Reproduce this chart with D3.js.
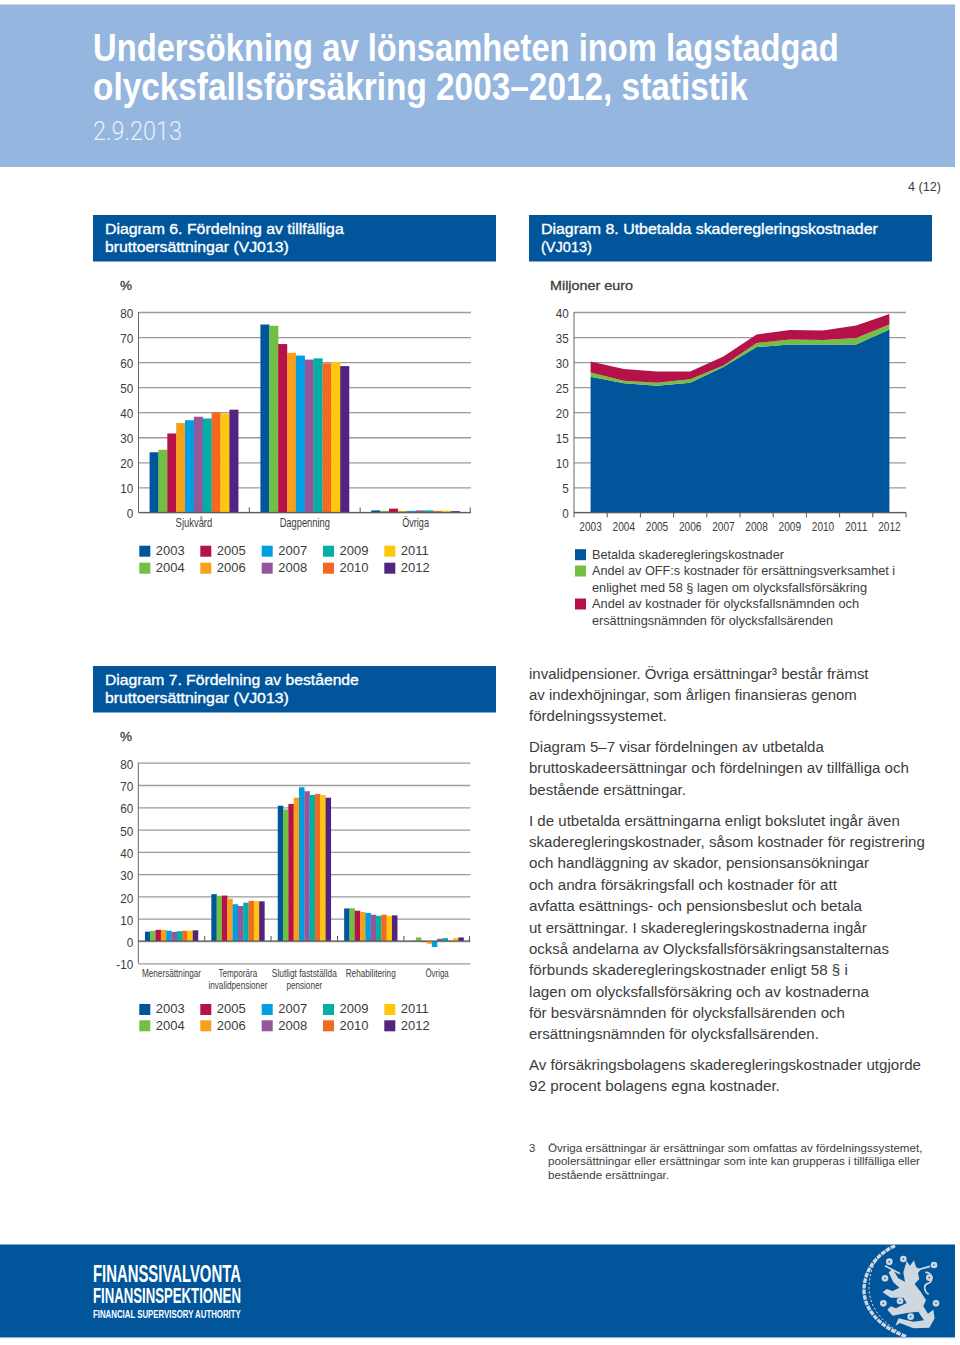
<!DOCTYPE html>
<html lang="sv">
<head>
<meta charset="utf-8">
<title>Undersökning av lönsamheten</title>
<script src="https://cdn.jsdelivr.net/npm/d3@7"></script>
<style>
html,body{margin:0;padding:0;background:#fff}
svg{display:block}
text{font-family:"Liberation Sans",Arial,sans-serif}
</style>
</head>
<body>
<svg id="page" width="960" height="1345" viewBox="0 0 960 1345"></svg>
<script>
// ---------- data ----------
const years = ["2003","2004","2005","2006","2007","2008","2009","2010","2011","2012"];
const colors = ["#00559b","#72bf44","#b5124a","#f9a01b","#009fe3","#93579a","#00b0a6","#f26a21","#ffc60b","#52247f"];

const d6Categories = ["Sjukvård","Dagpenning","Övriga"];
const d6Sjukvard   = [24,25,31.5,35.7,36.8,38.2,37.5,40,39.5,41];
const d6Dagpenning = [75,74.5,67.2,63.7,62.6,61,61.5,59.5,60,58.4];
const d6Ovriga     = [0.8,0.6,1.5,0.6,0.6,0.8,0.8,0.6,0.7,0.5];
const d6Ticks = [0,10,20,30,40,50,60,70,80];

const d8Betalda = [27.1,25.8,25.3,25.9,29,33,33.5,33.5,33.5,36.5];
const d8Off     = [0.8,0.5,0.6,0.7,0.3,0.8,1.0,0.9,1.3,1.0];
const d8Namnd   = [2.2,2.3,2.2,1.5,1.8,1.7,1.9,1.9,2.5,2.1];
const d8Ticks = [0,5,10,15,20,25,30,35,40];
const d8Colors = ["#00559b","#72bf44","#b5124a"];
const d8Legend = [
  ["Betalda skaderegleringskostnader"],
  ["Andel av OFF:s kostnader för ersättningsverksamhet i","enlighet med 58 § lagen om olycksfallsförsäkring"],
  ["Andel av kostnader för olycksfallsnämnden och","ersättningsnämnden för olycksfallsärenden"]
];

const d7Categories = [["Menersättningar"],["Temporära","invalidpensioner"],["Slutligt fastställda","pensioner"],["Rehabilitering"],["Övriga"]];
const d7Mener  = [4.2,4.6,5,5,4.6,4.1,4.4,4.6,4.6,4.8];
const d7Temp   = [21,20.3,20.4,19,16.5,15.7,17.2,18,17.9,17.8];
const d7Slut   = [60.7,59,61.5,64.3,69,67.2,65.5,66,65.5,64.3];
const d7Rehab  = [14.6,14.7,13.6,13,12.6,11.8,11.3,11.8,11.2,11.5];
const d7Ovriga = [0.1,1.6,-0.4,-1.2,-2.7,1,1.3,0.2,1.3,1.6];
const d7Ticks = [-10,0,10,20,30,40,50,60,70,80];

const bodyLines = [
 "invalidpensioner. Övriga ersättningar³ består främst",
 "av indexhöjningar, som årligen finansieras genom",
 "fördelningssystemet.",
 "Diagram 5–7 visar fördelningen av utbetalda",
 "bruttoskadeersättningar och fördelningen av tillfälliga och",
 "bestående ersättningar.",
 "I de utbetalda ersättningarna enligt bokslutet ingår även",
 "skaderegleringskostnader, såsom kostnader för registrering",
 "och handläggning av skador, pensionsansökningar",
 "och andra försäkringsfall och kostnader för att",
 "avfatta esättnings- och pensionsbeslut och betala",
 "ut ersättningar. I skaderegleringskostnaderna ingår",
 "också andelarna av Olycksfallsförsäkringsanstalternas",
 "förbunds skaderegleringskostnader enligt 58 § i",
 "lagen om olycksfallsförsäkring och av kostnaderna",
 "för besvärsnämnden för olycksfallsärenden och",
 "ersättningsnämnden för olycksfallsärenden.",
 "Av försäkringsbolagens skaderegleringskostnader utgjorde",
 "92 procent bolagens egna kostnader."
];
const footnoteLines = [
 "Övriga ersättningar är ersättningar som omfattas av fördelningssystemet,",
 "poolersättningar eller ersättningar som inte kan grupperas i tillfälliga eller",
 "bestående ersättningar."
];

// ---------- layout ----------
const bodyBase = [679,700,721,752,773,795,826,847,868,890,911,933,954,975,997,1018,1039,1070,1091];
const bodyEnd  = [869,857,667,824,909,686,900,925,869,837,862,867,889,848,869,845,819,921,780];
const INK = "#3c3c3c";
const svg = d3.select("#page");

// Text helper: o.width squeezes the real text horizontally to the width measured on the reference.
function T(parent,x,y,str,o={}){
  const t = parent.append("text").text(str)
    .attr("font-size",o.size||13).attr("fill",o.fill||INK)
    .attr("font-weight",o.weight||400).attr("text-anchor",o.anchor||"start");
  if(o.family) t.style("font-family",o.family);
  if(o.stroke) t.attr("stroke",o.fill||INK).attr("stroke-width",o.stroke);
  if(o.width){
    const natural=t.node().getComputedTextLength();
    t.attr("transform",`translate(${x},${y}) scale(${o.width/natural},1)`);
  } else {
    t.attr("x",x).attr("y",y);
  }
  return t;
}

// page furniture
svg.append("rect").attr("x",0).attr("y",4.5).attr("width",955).attr("height",162.5).attr("fill","#94b6df");
T(svg,93,61,"Undersökning av lönsamheten inom lagstadgad",{size:39,weight:700,fill:"#fff",width:746});
T(svg,93,100,"olycksfallsförsäkring 2003–2012, statistik",{size:39,weight:700,fill:"#fff",width:655});
T(svg,93,139.5,"2.9.2013",{size:26,fill:"#e8eff8",family:'Roboto,"Liberation Sans"',weight:300,width:89});
T(svg,941,191,"4 (12)",{size:13.5,anchor:"end",width:33});

function panel(x,y,l1,l2,w1,w2){
  svg.append("rect").attr("x",x).attr("y",y).attr("width",403).attr("height",46.5).attr("fill","#00559b");
  T(svg,x+12,y+19,l1,{size:15,fill:"#fff",stroke:0.35,width:w1});
  T(svg,x+12,y+37,l2,{size:15,fill:"#fff",stroke:0.35,width:w2});
}
panel(93,215,"Diagram 6. Fördelning av tillfälliga","bruttoersättningar (VJ013)",239,184);
panel(529,215,"Diagram 8. Utbetalda skaderegleringskostnader","(VJ013)",337,51);
panel(93,666,"Diagram 7. Fördelning av bestående","bruttoersättningar (VJ013)",254,184);

T(svg,120,290,"%",{size:13.5,stroke:0.3,width:12});
T(svg,550,290,"Miljoner euro",{size:13.5,stroke:0.3,width:83});
T(svg,120,741,"%",{size:13.5,stroke:0.3,width:12});

function styleAxis(g,gridColor){
  g.selectAll(".domain").remove();
  g.selectAll(".tick line").attr("stroke",gridColor).attr("stroke-width",1.3);
  g.selectAll(".tick text").attr("fill",INK).attr("font-size",12.7)
    .attr("x",-5.6).attr("dy","0.44em").attr("transform","scale(0.92,1)");
}

function yearLegend(x0,y1,y2){
  const cols=[0,61,122.4,183.7,245];
  years.forEach((yr,i)=>{
    const cx=x0+cols[Math.floor(i/2)], row=i%2, by=row?y2:y1;
    svg.append("rect").attr("x",cx).attr("y",by-10).attr("width",11).attr("height",11).attr("fill",colors[i]);
    T(svg,cx+16.5,by-0.7,yr,{size:13});
  });
}

function barChart(cfg){
  const x=d3.scaleBand().domain(d3.range(cfg.series.length)).range([cfg.left,cfg.right]).paddingInner(0.2).paddingOuter(0.1);
  const xi=d3.scaleBand().domain(d3.range(years.length)).range([0,x.bandwidth()]);
  const y=d3.scaleLinear().domain(cfg.domain).range([cfg.bottom,cfg.top]);
  const gy=svg.append("g").attr("transform",`translate(${cfg.left},0)`)
    .call(d3.axisLeft(y).tickValues(cfg.ticks).tickSize(-(cfg.right-cfg.left)).tickFormat(d=>String(d)));
  styleAxis(gy,"#9b9b9b");
  svg.append("line").attr("x1",cfg.left).attr("x2",cfg.left).attr("y1",cfg.top).attr("y2",cfg.bottom).attr("stroke","#666");
  cfg.series.forEach((vals,k)=>{
    svg.append("g").selectAll("rect").data(vals).join("rect")
      .attr("x",(d,i)=>x(k)+xi(i)).attr("width",xi.bandwidth()+0.2)
      .attr("y",d=>y(Math.max(d,0))).attr("height",d=>Math.abs(y(d)-y(0)))
      .attr("fill",(d,i)=>colors[i]);
  });
  const y0=y(0);
  svg.append("line").attr("x1",cfg.left).attr("x2",cfg.right).attr("y1",y0).attr("y2",y0).attr("stroke","#555").attr("stroke-width",1);
  d3.range(1,cfg.series.length+1).forEach(k=>{
    const tx=cfg.left+x.step()*k-(k===cfg.series.length?0.8:0);
    svg.append("line").attr("x1",tx).attr("x2",tx).attr("y1",y0).attr("y2",y0-5).attr("stroke","#555");
  });
  cfg.labels.forEach((lines,k)=>{
    const cx=x(k)+x.bandwidth()/2;
    lines.forEach((s,j)=>T(svg,cx,cfg.labelY+j*12,s,{size:cfg.labelSize,anchor:"middle",width:cfg.labelWidths[k][j]}));
  });
}

barChart({series:[d6Sjukvard,d6Dagpenning,d6Ovriga],labels:d6Categories.map(c=>[c]),domain:[0,80],ticks:d6Ticks,
  left:138.5,right:471,top:312,bottom:512.4,labelY:527,labelSize:12,labelWidths:[[36.7],[50.3],[26.7]]});
yearLegend(139.3,555.7,572.7);

barChart({series:[d7Mener,d7Temp,d7Slut,d7Rehab,d7Ovriga],labels:d7Categories,domain:[-10,80],ticks:d7Ticks,
  left:138.3,right:470.3,top:762.7,bottom:963.3,labelY:977,labelSize:11.5,labelWidths:[[59.3],[38.7,59],[65,35.7],[50],[23.3]]});
yearLegend(139.3,1014,1030.3);

// Diagram 8 stacked area
(function(){
  const left=574,right=906,top=312,bottom=512.4;
  const band=d3.scaleBand().domain(years).range([left,right]);
  const x=d=>band(d)+band.bandwidth()/2;
  const y=d3.scaleLinear().domain([0,40]).range([bottom,top]);
  const rows=years.map((yr,i)=>({yr,a:d8Betalda[i],b:d8Off[i],c:d8Namnd[i]}));
  const stacked=d3.stack().keys(["a","b","c"])(rows);
  const gy=svg.append("g").attr("transform",`translate(${left},0)`)
    .call(d3.axisLeft(y).tickValues(d8Ticks).tickSize(-(right-left)).tickFormat(d=>String(d)));
  styleAxis(gy,"#9b9b9b");
  const area=d3.area().x(d=>x(d.data.yr)).y0(d=>y(d[0])).y1(d=>y(d[1]));
  svg.append("g").selectAll("path").data(stacked).join("path").attr("d",area).attr("fill",(d,i)=>d8Colors[i]);
  svg.append("line").attr("x1",left).attr("x2",left).attr("y1",top).attr("y2",bottom).attr("stroke","#666");
  const gx=svg.append("g").attr("transform",`translate(0,${bottom})`)
    .call(d3.axisBottom(band).tickSize(0).tickFormat(()=>""));
  gx.select(".domain").attr("stroke","#555").attr("d",`M${left},0H${right}`);
  years.forEach(yr=>T(svg,x(yr),530.5,yr,{size:12,anchor:"middle",width:22.5}));
  d3.range(0,11).forEach(k=>{
    const tx=left+band.step()*k;
    svg.append("line").attr("x1",tx).attr("x2",tx).attr("y1",bottom).attr("y2",bottom+5).attr("stroke","#555");
  });
  const base=[[558.7],[575,592],[608,624.5]];
  const widths=[[192],[303,275],[267,241]];
  d8Legend.forEach((lines,i)=>{
    svg.append("rect").attr("x",575).attr("y",base[i][0]-9.5).attr("width",11).attr("height",11).attr("fill",d8Colors[i]);
    lines.forEach((s,j)=>T(svg,592,base[i][j],s,{size:12.7,width:widths[i][j]}));
  });
})();

// body text
bodyLines.forEach((s,i)=>T(svg,529,bodyBase[i],s,{size:15.3,width:bodyEnd[i]-529}));
T(svg,529,1152,"3",{size:11.3});
const fnEnd=[923,920,669], fnBase=[1152,1165,1179];
footnoteLines.forEach((s,i)=>T(svg,548,fnBase[i],s,{size:11.3,width:fnEnd[i]-548}));

// footer
svg.append("rect").attr("x",0).attr("y",1244.5).attr("width",955).attr("height",92.5).attr("fill","#00559b");
svg.append("rect").attr("x",0).attr("y",1337).attr("width",955).attr("height",1.2).attr("fill","#94b6df");
T(svg,93,1282,"FINANSSIVALVONTA",{size:23,weight:700,fill:"#fff",width:148});
T(svg,93,1303,"FINANSINSPEKTIONEN",{size:22,weight:700,fill:"#fff",width:148});
T(svg,93,1318,"FINANCIAL SUPERVISORY AUTHORITY",{size:11.5,weight:700,fill:"#fff",width:148});

// crest (decorative)
svg.append("clipPath").attr("id","fc").append("rect").attr("x",0).attr("y",1244.5).attr("width",955).attr("height",92.5);
const crest=svg.append("g").attr("clip-path","url(#fc)").append("g").attr("transform","translate(850,1235) scale(0.3333)");
const SILVER="#cfd7e0";
crest.append("path").attr("d","M135,32 C85,55 45,100 42,160 C40,220 85,275 170,305")
  .attr("fill","none").attr("stroke",SILVER).attr("stroke-width",10).attr("stroke-dasharray","14 3");
crest.append("path").attr("d","M112,44 C72,70 58,110 57,160 C58,215 95,262 150,292")
  .attr("fill","none").attr("stroke",SILVER).attr("stroke-width",3).attr("stroke-dasharray","7 6");
crest.append("path").attr("fill",SILVER).attr("d",
 "M170,78 L180,92 L192,76 L198,96 L212,104 L204,114 L208,132 L194,147 L212,170 L228,195 L220,214 L234,236 L250,224 L254,250 L238,278 L190,280 L150,264 L136,272 L146,250 L190,260 L222,256 L205,230 L170,234 L128,242 L112,224 L122,214 L138,220 L170,204 L160,188 L122,188 L98,172 L110,162 L128,168 L148,158 L130,142 L116,112 L128,102 L145,130 L165,140 L160,112 Z");
crest.append("path").attr("fill","none").attr("stroke",SILVER).attr("stroke-width",5)
 .attr("d","M205,104 L240,94 M105,92 L150,116 M226,112 C248,112 252,140 232,146 C220,150 222,170 236,178");
[[118,80],[160,72],[105,130],[100,205],[150,198],[182,245],[258,205],[252,90],[238,128]].forEach(p=>{
  crest.append("circle").attr("cx",p[0]).attr("cy",p[1]).attr("r",10).attr("fill",SILVER);
  crest.append("circle").attr("cx",p[0]).attr("cy",p[1]).attr("r",2.5).attr("fill","#00559b");
});
</script>
</body>
</html>
